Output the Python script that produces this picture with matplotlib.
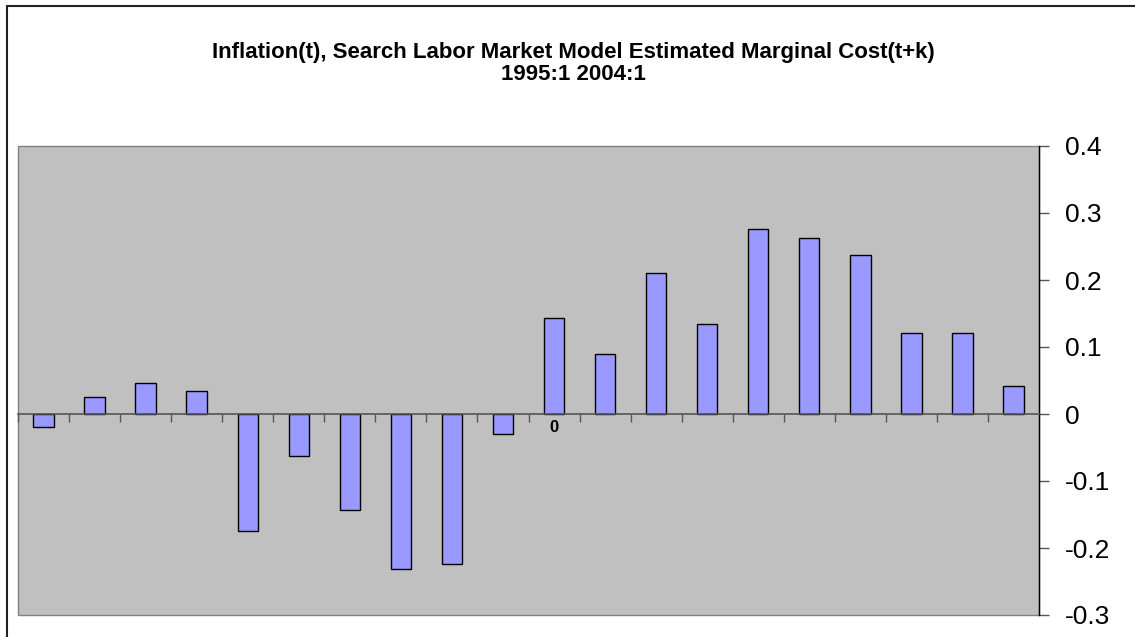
import matplotlib
matplotlib.use('Agg')
import matplotlib.pyplot as plt
from matplotlib.patches import Rectangle

plt.rcParams['font.family'] = ['Liberation Sans', 'DejaVu Sans']
plt.rcParams['axes.unicode_minus'] = False

# lag k of marginal cost relative to inflation(t)
lags = list(range(-10, 10))
correlations = [-0.020, 0.025, 0.047, 0.035, -0.174, -0.063, -0.143, -0.231, -0.224, -0.030,
                0.143, 0.089, 0.210, 0.135, 0.276, 0.262, 0.238, 0.121, 0.121, 0.042]
category_labels = ['0' if k == 0 else '' for k in lags]
y_ticks = [0.4, 0.3, 0.2, 0.1, 0.0, -0.1, -0.2, -0.3]
y_tick_labels = ['0.4', '0.3', '0.2', '0.1', '0', '-0.1', '-0.2', '-0.3']
title_lines = ['Inflation(t), Search Labor Market Model Estimated Marginal Cost(t+k)',
               '1995:1 2004:1']

W, H = 1135, 637
fig = plt.figure(figsize=(W / 100, H / 100), dpi=100)
ax = fig.add_axes([18 / W, (H - 615) / H, (1039 - 18) / W, (615 - 146) / H])

ax.set_facecolor('#C0C0C0')
ax.patch.set_edgecolor('#808080')
ax.patch.set_linewidth(1.0)

xs = list(range(len(lags)))
ax.bar(xs, correlations, width=0.4, color='#9999FF', edgecolor='black', linewidth=1.0, zorder=3)

ax.set_xlim(-0.5, len(lags) - 0.5)
ax.set_ylim(-0.3, 0.4)

# category axis crossing at zero, Excel style
for side in ('top', 'left'):
    ax.spines[side].set_visible(False)
ax.spines['bottom'].set_position(('data', 0))
ax.spines['bottom'].set_color('#555555')
ax.spines['bottom'].set_linewidth(1.2)
ax.spines['bottom'].set_zorder(4)
ax.spines['right'].set_color('black')
ax.spines['right'].set_linewidth(1.0)

ax.set_xticks(xs, category_labels)
ax.set_xticks([x - 0.5 for x in xs], minor=True)
ax.tick_params(axis='x', which='major', length=0, pad=4, labelsize=12)
ax.tick_params(axis='x', which='minor', length=6, width=1.0, color='#555555', direction='out')
for lbl in ax.get_xticklabels():
    lbl.set_fontweight('bold')

ax.yaxis.tick_right()
ax.set_yticks(y_ticks, y_tick_labels)
ax.tick_params(axis='y', which='major', length=7.5, width=1.0, color='#555555',
               direction='out', pad=11, labelsize=19)

for line, base_y in zip(title_lines, (58, 80)):
    fig.text(0.505, 1 - base_y / H, line, ha='center', va='baseline', fontsize=16,
             fontweight='bold')

# chart frame (top and left edges visible)
fig.add_artist(Rectangle((6.5 / W, -0.1), 1.2, 1.1 - 6.5 / H, transform=fig.transFigure,
                         fill=False, edgecolor='#222222', linewidth=1.5))

fig.savefig('out.png', dpi=100)
